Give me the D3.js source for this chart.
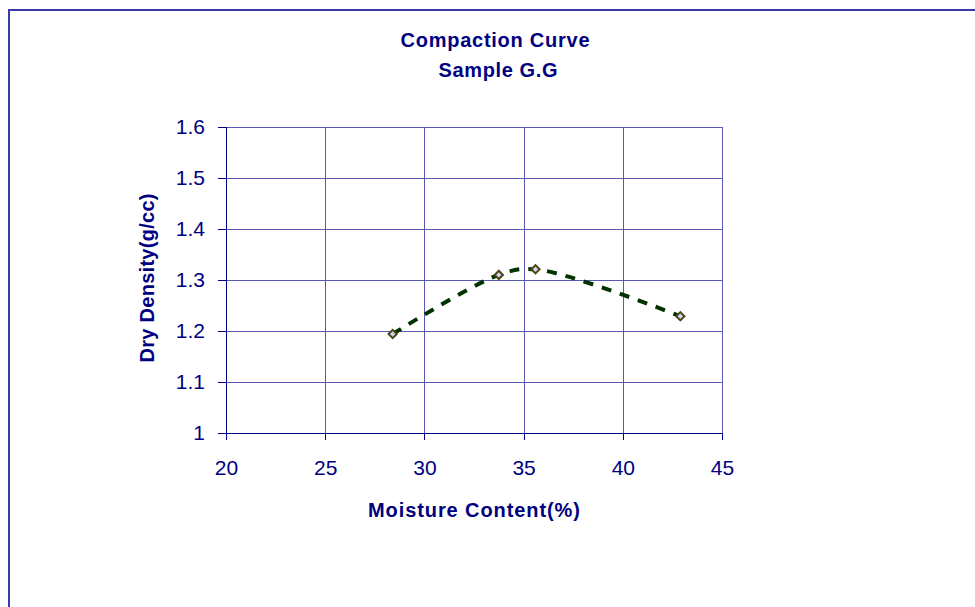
<!DOCTYPE html>
<html lang="en">
<head>
<meta charset="utf-8">
<title>Compaction Curve</title>
<script src="https://d3js.org/d3.v7.min.js"></script>
<style>
  body { margin: 0; padding: 0; background: #fff; }
  svg { display: block; font-family: "Liberation Sans", Arial, sans-serif; }
  .grid line { stroke: #5a5ab4; stroke-width: 1px; shape-rendering: crispEdges; }
  .axis path, .axis line { stroke: #000080; stroke-width: 1px; shape-rendering: crispEdges; }
  .axis text { fill: #000080; font-size: 21px; }
  .title { fill: #000080; font-weight: bold; font-size: 20px; }
</style>
</head>
<body>
<script>
// data
var moisture = [28.4, 33.75, 35.6, 42.9];
var density = [1.194, 1.310, 1.321, 1.229];
var xTicks = [20, 25, 30, 35, 40, 45];
var yTicks = [1, 1.1, 1.2, 1.3, 1.4, 1.5, 1.6];
var titleLines = ["Compaction Curve", "Sample G.G"];
var xTitle = "Moisture Content(%)";
var yTitle = "Dry Density(g/cc)";

var width = 975, height = 607;
var pLeft = 226, pRight = 722, pTop = 127, pBottom = 433;

var svg = d3.select("body").append("svg")
    .attr("width", width)
    .attr("height", height);

// outer chart border (runs off the page right and bottom)
svg.append("rect")
    .attr("x", 9).attr("y", 10)
    .attr("width", 1000).attr("height", 700)
    .attr("fill", "none")
    .attr("stroke", "#3a3aa8")
    .attr("stroke-width", 2);

var x = d3.scaleLinear().domain([20, 45]).range([pLeft, pRight]);
var y = d3.scaleLinear().domain([1, 1.6]).range([pBottom, pTop]);

// gridlines
var grid = svg.append("g").attr("class", "grid");
grid.selectAll(".h").data(yTicks.slice(1)).enter().append("line")
    .attr("x1", pLeft).attr("x2", pRight)
    .attr("y1", function(d) { return Math.round(y(d)) + 0.5; })
    .attr("y2", function(d) { return Math.round(y(d)) + 0.5; });
grid.selectAll(".v").data(xTicks.slice(1)).enter().append("line")
    .attr("y1", pTop).attr("y2", pBottom)
    .attr("x1", function(d) { return Math.round(x(d)) + 0.5; })
    .attr("x2", function(d) { return Math.round(x(d)) + 0.5; });

// axes
svg.append("g").attr("class", "axis")
    .attr("transform", "translate(" + pLeft + ",0)")
    .call(d3.axisLeft(y).tickValues(yTicks).tickSizeInner(8).tickSizeOuter(0).tickPadding(13)
        .tickFormat(function(d) { return String(+d.toFixed(1)); }))
    .call(function(g) { g.select(".domain").attr("d", "M0.5," + pTop + "V" + (pBottom + 0.5)); });

svg.append("g").attr("class", "axis")
    .attr("transform", "translate(0," + pBottom + ")")
    .call(d3.axisBottom(x).tickValues(xTicks).tickSizeInner(7).tickSizeOuter(0).tickPadding(20))
    .call(function(g) { g.select(".domain").attr("d", "M" + pLeft + ",0.5H" + pRight); });

// titles
svg.selectAll(".main").data(titleLines).enter().append("text")
    .attr("class", "title")
    .attr("x", function(d, i) { return i ? 498 : 495; })
    .attr("y", function(d, i) { return 47 + i * 30; })
    .attr("text-anchor", "middle")
    .attr("textLength", function(d, i) { return i ? 119 : 189; })
    .text(function(d) { return d; });

svg.append("text").attr("class", "title")
    .attr("x", 474).attr("y", 517)
    .attr("text-anchor", "middle")
    .attr("textLength", 212)
    .text(xTitle);

svg.append("text").attr("class", "title")
    .attr("transform", "translate(154,278) rotate(-90)")
    .attr("text-anchor", "middle")
    .attr("textLength", 169)
    .text(yTitle);

// smoothed dashed curve
var pts = moisture.map(function(m, i) { return [x(m), y(density[i])]; });
svg.append("path")
    .attr("d", d3.line().curve(d3.curveCatmullRom.alpha(0.5))(pts))
    .attr("fill", "none")
    .attr("stroke", "#003300")
    .attr("stroke-width", 4)
    .attr("stroke-dasharray", "10,9");

// markers
svg.selectAll(".pt").data(pts).enter().append("path")
    .attr("transform", function(d) { return "translate(" + d + ") rotate(45)"; })
    .attr("d", d3.symbol().type(d3.symbolSquare).size(34))
    .attr("fill", "#d0d0ff")
    .attr("stroke", "#4a4a10")
    .attr("stroke-width", 2);
</script>
</body>
</html>
